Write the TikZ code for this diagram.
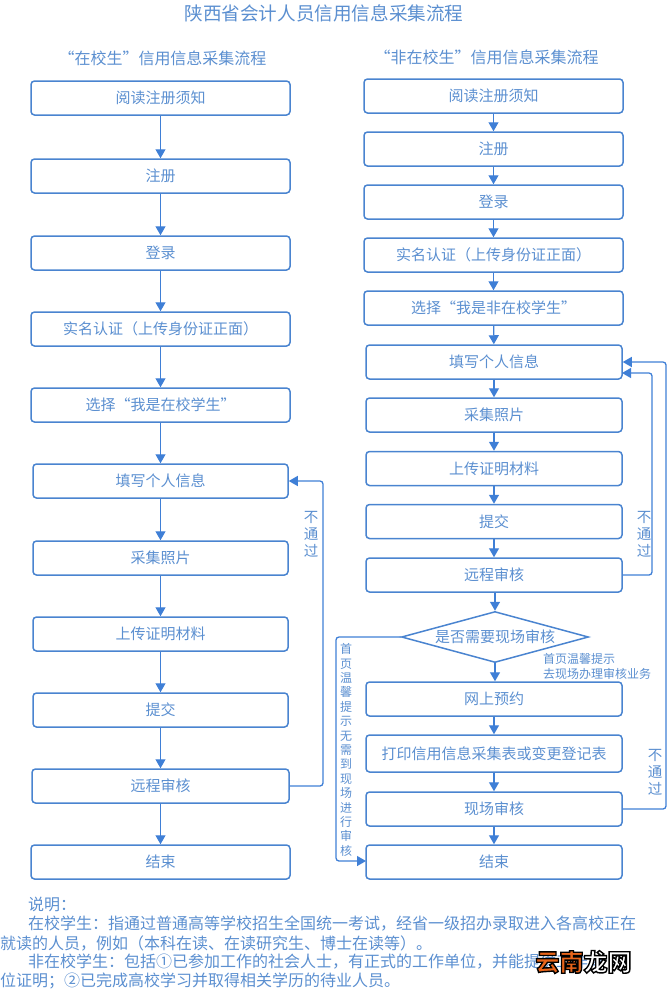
\documentclass[tikz,border=0pt]{standalone}
\usepackage{fontspec}
\setmainfont{Noto Sans CJK SC}
\usepackage{xcolor}
\usetikzlibrary{shapes.geometric, arrows.meta, positioning}
\definecolor{flowblue}{HTML}{3F7FD6}
\definecolor{boxblue}{HTML}{4A84D0}
\definecolor{inkblue}{HTML}{5B8FD0}
\definecolor{markorange}{HTML}{E8641A}
\newcommand{\markword}[2]{\textcolor{#1}{\special{pdf:code q 2 Tr 1.4 w 0 0 0 RG}#2\special{pdf:code Q}}}

\begin{document}
\begin{tikzpicture}[
    x=1pt, y=-1pt,
    stepbox/.style={draw=boxblue, rounded corners=3.5pt, line width=1.5pt, minimum width=#1, minimum height=34pt, align=center, inner sep=0pt, text=inkblue, font=\fontsize{15}{16}\selectfont},
    stepbox/.default=259pt,
    choice/.style={draw=boxblue, diamond, aspect=3.65, line width=1.5pt, minimum width=187pt, minimum height=51pt, inner sep=0pt, text=inkblue, font=\fontsize{15}{16}\selectfont},
    arr/.style={-{Triangle[length=9pt, width=10pt]}, draw=flowblue, line width=1.3pt, rounded corners=3pt},
    note/.style={text=inkblue, inner sep=0pt, align=center, font=\fontsize{12}{14.4}\selectfont},
    pass/.style={text=inkblue, inner sep=0pt, align=center, font=\fontsize{14.5}{17}\selectfont},
    head/.style={text=inkblue, inner sep=0pt, font=\fontsize{16}{18}\selectfont},
    para/.style={text=inkblue, inner sep=0pt, anchor=west, font=\fontsize{16}{18}\selectfont},
]
\useasboundingbox (0,0) rectangle (668,991);

% Titles
\node[text=inkblue, inner sep=0pt, font=\fontsize{18.6}{20}\selectfont] (title) at (324, 13) {陕西省会计人员信用信息采集流程};
\node[head] (headl) at (162.5, 58) {“在校生”信用信息采集流程};
\node[head] (headr) at (486.5, 57) {“非在校生”信用信息采集流程};

% Left column
\node[stepbox] (l1) at (160.5, 98) {阅读注册须知};
\node[stepbox] (l2) at (160.5, 176) {注册};
\node[stepbox] (l3) at (160.5, 253) {登录};
\node[stepbox] (l4) at (160.5, 329) {实名认证（上传身份证正面）};
\node[stepbox] (l5) at (160.5, 405) {选择“我是在校学生”};
\node[stepbox=255pt] (l6) at (160.5, 481) {填写个人信息};
\node[stepbox=255pt] (l7) at (160.5, 558) {采集照片};
\node[stepbox=255pt] (l8) at (160.5, 634) {上传证明材料};
\node[stepbox=255pt] (l9) at (160.5, 710) {提交};
\node[stepbox=257pt] (l10) at (160.5, 786) {远程审核};
\node[stepbox] (l11) at (160.5, 862) {结束};

% Right column
\node[stepbox] (r1) at (493.5, 96) {阅读注册须知};
\node[stepbox] (r2) at (493.5, 149) {注册};
\node[stepbox] (r3) at (493.5, 202) {登录};
\node[stepbox] (r4) at (493.5, 255) {实名认证（上传身份证正面）};
\node[stepbox] (r5) at (493.5, 308) {选择“我是非在校学生”};
\node[stepbox=256pt] (r6) at (494, 362) {填写个人信息};
\node[stepbox=256pt] (r7) at (494, 415) {采集照片};
\node[stepbox=256pt] (r8) at (494, 468.5) {上传证明材料};
\node[stepbox=256pt] (r9) at (494, 521.5) {提交};
\node[stepbox=256pt] (r10) at (494, 575) {远程审核};
\node[choice] (ask) at (495, 637) {是否需要现场审核};
\node[stepbox=256pt] (r11) at (494, 699) {网上预约};
\node[stepbox=256pt, minimum height=37pt] (r12) at (494, 753.5) {打印信用信息采集表或变更登记表};
\node[stepbox=256pt] (r13) at (494, 809) {现场审核};
\node[stepbox=256pt] (r14) at (494, 862) {结束};

% Arrows
\foreach \a/\b in {l1/l2, l2/l3, l3/l4, l4/l5, l5/l6, l6/l7, l7/l8, l8/l9, l9/l10, l10/l11,
    r1/r2, r2/r3, r3/r4, r4/r5, r5/r6, r6/r7, r7/r8, r8/r9, r9/r10, r11/r12, r12/r13, r13/r14}
    \draw[arr] (\a) -- (\b);
\draw[arr] (r10.south -| ask.north) -- (ask.north);
\draw[arr] (ask.south) -- (ask.south |- r11.north);

% Returns
\coordinate (lturn) at (323, 481);
\draw[arr] (l10.east) -| (lturn) -- (l6.east);
\coordinate (rturn) at (652, 373);
\coordinate (rhit) at (622, 373);
\draw[arr] (r10.east) -| (rturn) -- (rhit);
\coordinate (oturn) at (666, 362);
\draw[arr] (r13.east) -| (oturn) -- (r6.east);
\coordinate (sturn) at (336, 637);
\coordinate (sbot) at (336, 861);
\coordinate (shit) at (366, 861);
\draw[arr] (ask.west) -- (sturn) -- (sbot) -- (shit);

% Labels
\node[pass] (nl) at (311, 534) {不\\通\\过};
\node[pass] (nr) at (644, 534) {不\\通\\过};
\node[pass] (no) at (655, 772) {不\\通\\过};
\node[note] (skip) at (346, 750) {首\\页\\温\\馨\\提\\示\\无\\需\\到\\现\\场\\进\\行\\审\\核};
\node[note, align=left, anchor=west, font=\fontsize{12}{15}\selectfont] (go) at (543, 666.5) {首页温馨提示\\去现场办理审核业务};

% Notes
\node[para] (p1) at (28, 904) {说明：};
\node[para] (p2) at (28, 924) {在校学生：指通过普通高等学校招生全国统一考试，经省一级招办录取进入各高校正在};
\node[para] (p3) at (0, 943) {就读的人员，例如（本科在读、在读研究生、博士在读等）。};
\node[para] (p4) at (28, 962) {非在校学生：包括①已参加工作的社会人士，有正式的工作单位，并能提供工作单};
\node[para] (p5) at (0, 981) {位证明；②已完成高校学习并取得相关学历的待业人员。};
% Watermark
\node[inner sep=0pt, font=\bfseries\fontsize{24}{26}\selectfont] (mark) at (583.5, 962) {\markword{markorange}{云南}\markword{white}{龙网}};
\end{tikzpicture}
\end{document}
